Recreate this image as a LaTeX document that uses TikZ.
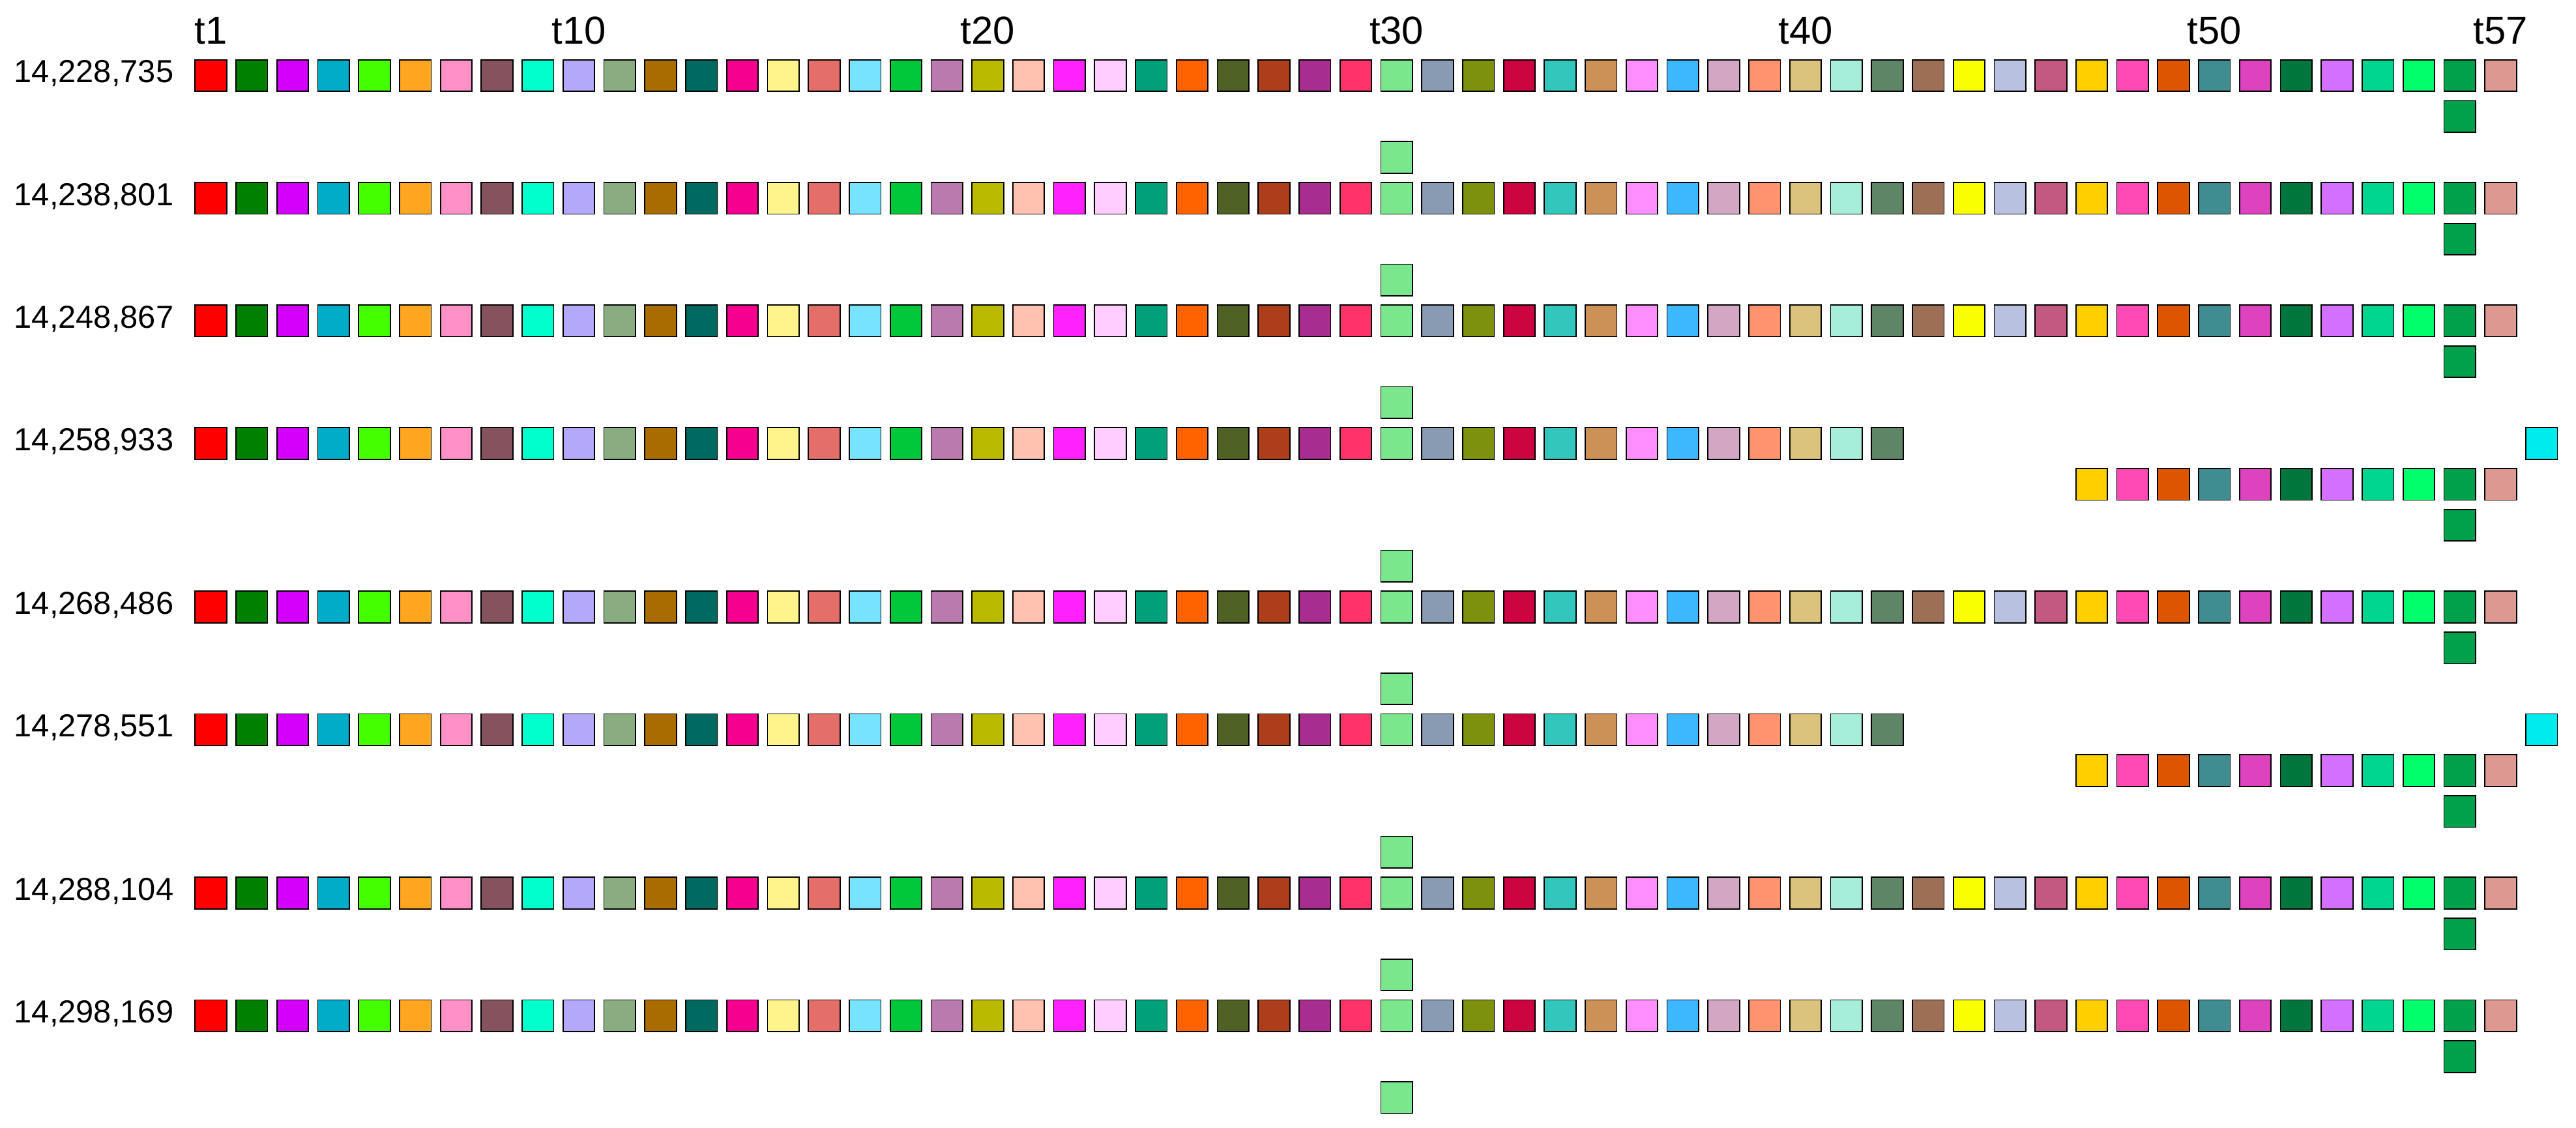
\documentclass[tikz,border=0pt]{standalone}
\usepackage{fontspec}
\setmainfont{Liberation Sans}
\definecolor{c1}{HTML}{FF0000}
\definecolor{c2}{HTML}{008000}
\definecolor{c3}{HTML}{D300FC}
\definecolor{c4}{HTML}{00ACC8}
\definecolor{c5}{HTML}{44FF00}
\definecolor{c6}{HTML}{FFA51F}
\definecolor{c7}{HTML}{FF90C8}
\definecolor{c8}{HTML}{85525E}
\definecolor{c9}{HTML}{00FFCC}
\definecolor{c10}{HTML}{B3A8FA}
\definecolor{c11}{HTML}{89AD81}
\definecolor{c12}{HTML}{A86C00}
\definecolor{c13}{HTML}{006A60}
\definecolor{c14}{HTML}{F5008F}
\definecolor{c15}{HTML}{FFF48C}
\definecolor{c16}{HTML}{E46F69}
\definecolor{c17}{HTML}{77E3FF}
\definecolor{c18}{HTML}{00C83A}
\definecolor{c19}{HTML}{BA7AAE}
\definecolor{c20}{HTML}{BABA00}
\definecolor{c21}{HTML}{FFC1B0}
\definecolor{c22}{HTML}{FF22FF}
\definecolor{c23}{HTML}{FFCDFF}
\definecolor{c24}{HTML}{00A07B}
\definecolor{c25}{HTML}{FF6300}
\definecolor{c26}{HTML}{4F6124}
\definecolor{c27}{HTML}{AD3E1B}
\definecolor{c28}{HTML}{A72D91}
\definecolor{c29}{HTML}{FF3369}
\definecolor{c30}{HTML}{7AE78C}
\definecolor{c31}{HTML}{889BB3}
\definecolor{c32}{HTML}{7E910E}
\definecolor{c33}{HTML}{CC043F}
\definecolor{c34}{HTML}{33C6BD}
\definecolor{c35}{HTML}{CC9156}
\definecolor{c36}{HTML}{FF8FFF}
\definecolor{c37}{HTML}{3DB8FF}
\definecolor{c38}{HTML}{D3A6C3}
\definecolor{c39}{HTML}{FF926F}
\definecolor{c40}{HTML}{DBC37E}
\definecolor{c41}{HTML}{A6EED9}
\definecolor{c42}{HTML}{5E8566}
\definecolor{c43}{HTML}{9D7055}
\definecolor{c44}{HTML}{FAFF00}
\definecolor{c45}{HTML}{B8C2E0}
\definecolor{c46}{HTML}{C35880}
\definecolor{c47}{HTML}{FFCF00}
\definecolor{c48}{HTML}{FF4AB5}
\definecolor{c49}{HTML}{DD5500}
\definecolor{c50}{HTML}{3F8C91}
\definecolor{c51}{HTML}{DD43BF}
\definecolor{c52}{HTML}{00763C}
\definecolor{c53}{HTML}{D370FF}
\definecolor{c54}{HTML}{00D68F}
\definecolor{c55}{HTML}{00FF6A}
\definecolor{c56}{HTML}{00A14A}
\definecolor{c57}{HTML}{DE9892}
\definecolor{c58}{HTML}{00ECEC}
\begin{document}
\begin{tikzpicture}[x=0.6273cm,y=-0.6273cm,
  sq/.style={draw=black,line width=0.5pt,minimum size=0.485cm,inner sep=0pt,outer sep=0pt},
  rowlab/.style={anchor=base east,font=\fontsize{13.9pt}{16pt}\selectfont,inner sep=0pt},
  collab/.style={anchor=base,font=\fontsize{17pt}{20pt}\selectfont,inner sep=0pt}]
\useasboundingbox (-4.157,-1.849) rectangle (58.843,25.745);
% full rows
\foreach \k/\r in {0/1,3/2,6/3,13/5,20/7,23/8}{
  \foreach \c in {1,...,57}{
    \node[sq,fill=c\c] (r\r c\c) at (\c,\k) {};
  }
}
% split rows
\foreach \k/\r in {9/4,16/6}{
  \foreach \c in {1,...,42}{
    \node[sq,fill=c\c] (r\r c\c) at (\c,\k) {};
  }
  \node[sq,fill=c58] (r\r c58) at (58,\k) {};
  \foreach \c in {47,...,57}{
    \node[sq,fill=c\c] (r\r c\c) at (\c,\k+1) {};
  }
}
% extra squares
\foreach \k [count=\i] in {1,4,7,11,14,18,21,24}{
  \node[sq,fill=c56] (xa\i) at (56,\k) {};
}
\foreach \k [count=\i] in {2,5,8,12,15,19,22,25}{
  \node[sq,fill=c30] (xb\i) at (30,\k) {};
}
% row labels
\foreach \k/\lab [count=\i] in {0/{14,228,735},3/{14,238,801},6/{14,248,867},9/{14,258,933},13/{14,268,486},16/{14,278,551},20/{14,288,104},23/{14,298,169}}{
  \node[rowlab] (lab\i) at (0.099,\k+0.175) {\lab};
}
% column labels
\foreach \c in {1,10,20,30,40,50,57}{
  \node[collab] (t\c) at (\c,-0.765) {t\c};
}
\end{tikzpicture}
\end{document}
